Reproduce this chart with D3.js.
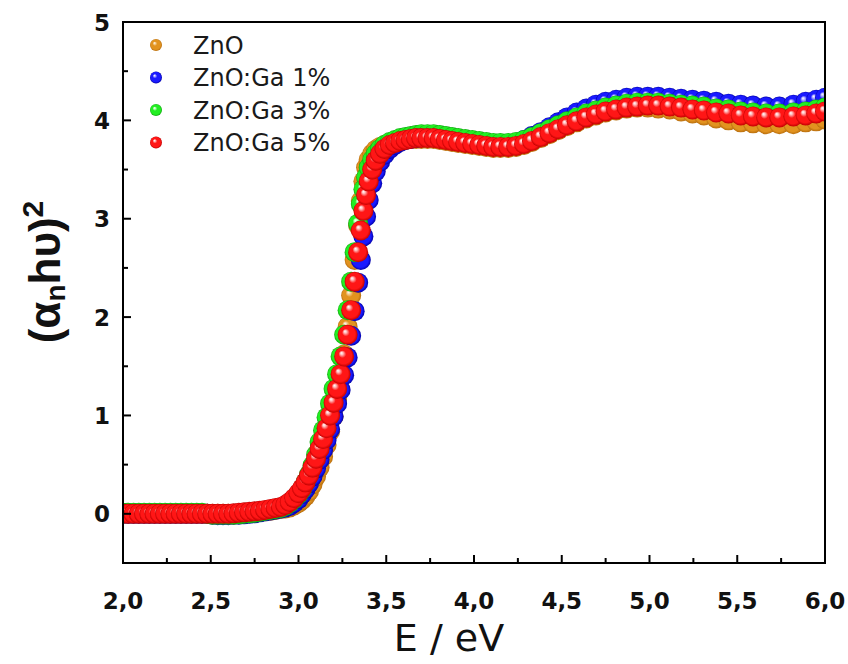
<!DOCTYPE html>
<html><head><meta charset="utf-8">
<script src="https://cdn.jsdelivr.net/npm/d3@7/dist/d3.min.js"></script>
<style>body{margin:0;background:#fff}</style>
</head><body>
<script>
// photon energy (eV), shared by all series
const energy = [
  2.00,2.03,2.06,2.09,2.12,2.15,2.18,2.21,2.24,2.27,2.30,2.33,2.36,2.39,2.42,2.45,2.48,2.51,2.54,2.57,2.60,2.63,2.66,2.69,2.72,2.75,2.78,2.81,2.84,2.87,2.90,
  2.925,2.95,2.975,3.00,3.02,3.04,3.06,3.08,3.10,3.12,3.14,3.16,3.18,3.20,3.22,3.24,3.26,3.28,3.30,3.32,3.34,3.355,3.37,3.385,3.40,3.42,3.44,
  3.465,3.49,3.52,3.55,3.58,3.61,3.64,3.67,3.70,3.735,3.77,3.805,3.84,3.875,3.91,3.95,3.99,4.03,4.07,4.11,
  4.15,4.195,4.24,4.285,4.33,4.38,4.43,4.48,4.53,4.585,4.64,4.695,4.75,4.81,4.87,4.93,4.99,5.05,5.115,5.18,5.245,5.31,5.38,5.45,5.52,5.59,5.665,5.74,5.82,5.89,5.95,6.00
];
const znO = [
  0,0,0,0,0,0,0,0,0,0,0,0,0,0,0,0,0,0,0,0,0,-0.005,0.0,0.005,0.01,0.015,0.02,0.025,0.03,0.04,0.05,
  0.055,0.065,0.085,0.11,0.14,0.18,0.23,0.30,0.38,0.47,0.58,0.70,0.84,0.99,1.17,1.38,1.62,1.90,2.22,2.58,2.93,3.18,3.38,3.52,3.60,3.66,3.70,
  3.73,3.75,3.77,3.78,3.79,3.80,3.81,3.81,3.81,3.81,3.81,3.80,3.79,3.78,3.77,3.76,3.75,3.74,3.73,3.72,
  3.72,3.72,3.73,3.75,3.78,3.82,3.86,3.90,3.94,3.98,4.02,4.05,4.08,4.10,4.12,4.13,4.13,4.12,4.11,4.09,4.07,4.05,4.02,4.00,3.98,3.97,3.96,3.96,3.96,3.98,3.99,4.01
];
const ga1 = [
  0,0,0,0,0,0,0,0,0,0,0,0,0,0,0,0,0,-0.01,-0.015,-0.015,-0.015,-0.01,-0.01,-0.005,0.0,0.005,0.015,0.025,0.035,0.045,0.055,
  0.065,0.08,0.11,0.15,0.20,0.25,0.31,0.38,0.46,0.55,0.65,0.75,0.86,0.99,1.12,1.26,1.41,1.59,1.81,2.06,2.35,2.58,2.82,3.02,3.19,3.36,3.48,
  3.58,3.65,3.71,3.75,3.78,3.80,3.81,3.82,3.83,3.83,3.83,3.82,3.81,3.80,3.79,3.78,3.77,3.76,3.75,3.74,
  3.75,3.75,3.77,3.80,3.84,3.88,3.93,3.98,4.03,4.08,4.12,4.16,4.19,4.21,4.23,4.24,4.24,4.24,4.23,4.22,4.21,4.20,4.19,4.17,4.16,4.15,4.14,4.14,4.16,4.19,4.21,4.23
];
const ga3 = [
  0.01,0.01,0.01,0.01,0.01,0.01,0.01,0.01,0.01,0.01,0.01,0.01,0.01,0.01,0.01,0.01,0.0,-0.01,-0.01,-0.01,-0.01,-0.01,-0.005,0.0,0.005,0.01,0.02,0.03,0.04,0.05,0.06,
  0.08,0.11,0.15,0.20,0.25,0.32,0.40,0.49,0.60,0.73,0.85,0.98,1.12,1.27,1.42,1.60,1.82,2.07,2.36,2.66,2.95,3.15,3.30,3.42,3.52,3.60,3.66,
  3.71,3.75,3.78,3.80,3.82,3.83,3.84,3.85,3.86,3.86,3.86,3.85,3.84,3.83,3.82,3.81,3.80,3.79,3.78,3.77,
  3.77,3.77,3.78,3.80,3.83,3.87,3.91,3.95,3.99,4.03,4.07,4.10,4.13,4.15,4.17,4.18,4.18,4.18,4.17,4.16,4.15,4.14,4.12,4.11,4.09,4.08,4.07,4.07,4.08,4.09,4.11,4.13
];
const ga5 = [
  0,0,0,0,0,0,0,0,0,0,0,0,0,0,0,0,0,0,0,0,0,0.005,0.01,0.015,0.02,0.025,0.03,0.04,0.05,0.06,0.07,
  0.09,0.12,0.16,0.21,0.26,0.32,0.39,0.47,0.56,0.66,0.76,0.87,1.00,1.13,1.27,1.42,1.60,1.82,2.07,2.36,2.66,2.88,3.08,3.24,3.38,3.50,3.59,
  3.66,3.71,3.75,3.77,3.79,3.80,3.81,3.82,3.82,3.82,3.82,3.81,3.80,3.79,3.78,3.77,3.76,3.75,3.74,3.73,
  3.73,3.73,3.74,3.76,3.79,3.83,3.87,3.91,3.95,3.99,4.03,4.06,4.09,4.11,4.13,4.14,4.15,4.15,4.14,4.13,4.11,4.10,4.08,4.07,4.05,4.04,4.03,4.03,4.04,4.05,4.07,4.09
];
const seriesNames = ["ZnO", "ZnO:Ga 1%", "ZnO:Ga 3%", "ZnO:Ga 5%"];
const seriesValues = [znO, ga1, ga3, ga5];
const seriesColors = [
  ["#ffffff", "#f8d9a8", "#e2931f", "#b86e0e"],
  ["#ffffff", "#b8b8ff", "#1a1aff", "#0000a8"],
  ["#ffffff", "#c8ffc8", "#22ee22", "#10a810"],
  ["#ffffff", "#ffc0c0", "#ff1616", "#c00000"]
];
const xTicks = [2.0, 2.5, 3.0, 3.5, 4.0, 4.5, 5.0, 5.5, 6.0];
const xTickLabels = ["2,0", "2,5", "3,0", "3,5", "4,0", "4,5", "5,0", "5,5", "6,0"];
const xMinorTicks = [2.25, 2.75, 3.25, 3.75, 4.25, 4.75, 5.25, 5.75];
const yTicks = [0, 1, 2, 3, 4, 5];
const yTickLabels = ["0", "1", "2", "3", "4", "5"];
const yMinorTicks = [0.5, 1.5, 2.5, 3.5, 4.5];

const W = 848, H = 664;
const L = 123, R = 825, T = 22, B = 563;
const svg = d3.select("body").append("svg").attr("width", W).attr("height", H)
  .style("font-family", "'DejaVu Sans', sans-serif");
svg.append("rect").attr("width", W).attr("height", H).attr("fill", "#fff");

const x = d3.scaleLinear().domain([2, 6]).range([L, R]);
const y = d3.scaleLinear().domain([-0.5, 5]).range([B, T]);

const defs = svg.append("defs");
seriesColors.forEach((c, i) => {
  const g = defs.append("radialGradient").attr("id", "ball" + i)
    .attr("cx", "50%").attr("cy", "50%").attr("r", "50%").attr("fx", "36%").attr("fy", "32%");
  g.append("stop").attr("offset", "0%").attr("stop-color", c[0]);
  g.append("stop").attr("offset", "14%").attr("stop-color", c[1]);
  g.append("stop").attr("offset", "38%").attr("stop-color", c[2]);
  g.append("stop").attr("offset", "80%").attr("stop-color", c[2]);
  g.append("stop").attr("offset", "100%").attr("stop-color", c[3]);
});
defs.append("clipPath").attr("id", "plotclip").append("rect")
  .attr("x", L).attr("y", T).attr("width", R - L).attr("height", B - T);

// data
const plot = svg.append("g").attr("clip-path", "url(#plotclip)");
seriesValues.forEach((vals, i) => {
  plot.append("g").selectAll("circle").data(energy.map((e, k) => [e, vals[k]]))
    .join("circle")
    .attr("cx", d => x(d[0])).attr("cy", d => y(d[1])).attr("r", 10)
    .attr("fill", `url(#ball${i})`);
});

// frame
svg.append("rect").attr("x", L).attr("y", T).attr("width", R - L).attr("height", B - T)
  .attr("fill", "none").attr("stroke", "#000").attr("stroke-width", 2);

// ticks (inward)
const ax = svg.append("g").attr("stroke", "#000").attr("stroke-width", 2);
xTicks.forEach(v => ax.append("line").attr("x1", x(v)).attr("x2", x(v)).attr("y1", B).attr("y2", B - 8));
xMinorTicks.forEach(v => ax.append("line").attr("x1", x(v)).attr("x2", x(v)).attr("y1", B).attr("y2", B - 5));
yTicks.forEach(v => ax.append("line").attr("y1", y(v)).attr("y2", y(v)).attr("x1", L).attr("x2", L + 8));
yMinorTicks.forEach(v => ax.append("line").attr("y1", y(v)).attr("y2", y(v)).attr("x1", L).attr("x2", L + 5));

// tick labels
xTicks.forEach((v, i) => svg.append("text").attr("x", x(v)).attr("y", 609)
  .attr("text-anchor", "middle").attr("font-size", 23).attr("font-weight", "bold")
  .attr("fill", "#111").text(xTickLabels[i]));
yTicks.forEach((v, i) => svg.append("text").attr("x", 110).attr("y", y(v) + 8.5)
  .attr("text-anchor", "end").attr("font-size", 23).attr("font-weight", "bold")
  .attr("fill", "#111").text(yTickLabels[i]));

// axis titles
svg.append("text").attr("x", 449).attr("y", 651).attr("text-anchor", "middle")
  .attr("font-size", 38).attr("fill", "#111").text("E / eV");
const yl = svg.append("text").attr("transform", "translate(60,272) rotate(-90)")
  .attr("text-anchor", "middle").attr("font-size", 44).attr("font-weight", "bold")
  .style("font-family", "'Liberation Sans', Arial, sans-serif").attr("fill", "#111");
yl.append("tspan").text("(α");
yl.append("tspan").attr("font-size", 28).attr("dy", 5).text("n");
yl.append("tspan").attr("dy", -5).text("hυ)");
yl.append("tspan").attr("font-size", 30).attr("dy", -17).text("2");

// legend
seriesNames.forEach((name, i) => {
  const cy = 45 + i * 32.5;
  svg.append("circle").attr("cx", 156).attr("cy", cy).attr("r", 6).attr("fill", `url(#ball${i})`);
  svg.append("text").attr("x", 193).attr("y", cy + 8.5).attr("font-size", 24)
    .attr("fill", "#1a1a1a").text(name);
});
</script>
</body></html>
